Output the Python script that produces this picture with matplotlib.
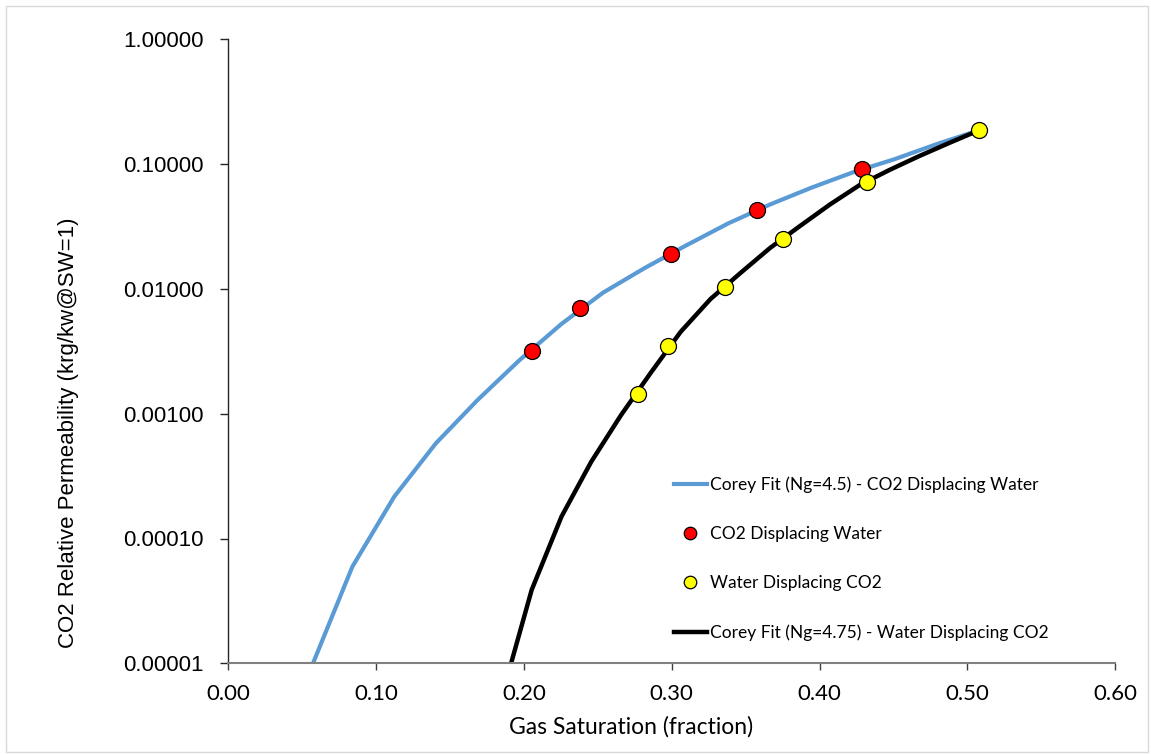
import matplotlib
matplotlib.use("Agg")
import matplotlib.pyplot as plt
from matplotlib.lines import Line2D
from matplotlib.patches import Rectangle
from matplotlib.ticker import FixedLocator, FuncFormatter, NullLocator

# ---- data ----
blue_sg = [0.0573, 0.0839, 0.1122, 0.1404, 0.1687, 0.1969, 0.2252, 0.2535,
           0.2817, 0.3100, 0.3382, 0.3665, 0.3947, 0.4230, 0.4512, 0.4795, 0.5078]
blue_kr = [1.0e-5, 5.94e-5, 2.16e-4, 5.79e-4, 1.29e-3, 2.68e-3, 5.22e-3, 9.33e-3,
           0.0147, 0.0224, 0.0335, 0.0475, 0.0649, 0.0863, 0.110, 0.145, 0.1866]

black_sg = [0.1913, 0.2052, 0.2254, 0.2455, 0.2657, 0.2858, 0.3060, 0.3262,
            0.3464, 0.3665, 0.3867, 0.4069, 0.4271, 0.4472, 0.4674, 0.4876, 0.5078]
black_kr = [1.0e-5, 3.87e-5, 1.50e-4, 4.12e-4, 9.76e-4, 2.13e-3, 4.53e-3, 8.3e-3,
            0.0134, 0.0213, 0.0319, 0.0474, 0.068, 0.0897, 0.116, 0.1476, 0.1866]

red_sg = [0.2052, 0.2381, 0.2995, 0.3574, 0.4285]
red_kr = [0.00320, 0.00700, 0.0191, 0.0426, 0.0908]

yellow_sg = [0.2769, 0.2972, 0.3358, 0.3750, 0.4318, 0.5078]
yellow_kr = [0.00145, 0.00351, 0.0104, 0.0251, 0.0723, 0.1866]

x_ticks = [0.0, 0.1, 0.2, 0.3, 0.4, 0.5, 0.6]
y_ticks = [1e-5, 1e-4, 1e-3, 1e-2, 1e-1, 1.0]

labels = ["Corey Fit (Ng=4.5) - CO2 Displacing Water",
          "CO2 Displacing Water",
          "Water Displacing CO2",
          "Corey Fit (Ng=4.75) - Water Displacing CO2"]

W, H = 1151, 754
fig = plt.figure(figsize=(W / 100, H / 100), dpi=100)
fig.patch.set_facecolor("white")

L, R, T, B = 228.3, 1115.3, 39.3, 663.3
ax = fig.add_axes([L / W, 1 - B / H, (R - L) / W, (B - T) / H])

ax.set_yscale("log")
ax.set_xlim(0, 0.6)
ax.set_ylim(1e-5, 1.0)

blue_c = "#5B9BD5"
ax.plot(blue_sg, blue_kr, color=blue_c, lw=3.0, solid_capstyle="butt", zorder=2)
ax.plot(black_sg, black_kr, color="black", lw=3.2, solid_capstyle="butt", zorder=2)
ax.plot(red_sg, red_kr, ls="none", marker="o", ms=11.5, mfc="#FF0000",
        mec="black", mew=0.9, zorder=3)
ax.plot(yellow_sg, yellow_kr, ls="none", marker="o", ms=11.5, mfc="#FFFF00",
        mec="black", mew=0.9, zorder=4)

# axes styling
for s in ("top", "right"):
    ax.spines[s].set_visible(False)
ax.spines["left"].set_color("#262626")
ax.spines["left"].set_linewidth(1.0)
ax.spines["bottom"].set_color("#808080")
ax.spines["bottom"].set_linewidth(1.5)

ax.xaxis.set_major_locator(FixedLocator(x_ticks))
ax.xaxis.set_major_formatter(FuncFormatter(lambda v, p: f"{v:.2f}"))
ax.yaxis.set_major_locator(FixedLocator(y_ticks))
ax.yaxis.set_minor_locator(NullLocator())
ax.yaxis.set_major_formatter(FuncFormatter(lambda v, p: f"{v:.5f}"))

ax.tick_params(axis="x", direction="out", length=5, width=1.0, color="#404040",
               pad=10, labelsize=16, labelcolor="black")
ax.tick_params(axis="y", direction="out", length=5.5, width=1.0, color="#262626",
               pad=12.5, labelsize=16, labelcolor="black")
for t in ax.get_xticklabels():
    t.set_fontfamily("Lato")
for t in ax.get_yticklabels():
    t.set_fontfamily("Liberation Sans")

# axis titles (placed as in the reference)
fig.text(631 / W, 1 - 727 / H, "Gas Saturation (fraction)", ha="center",
         va="center", fontsize=16.5, family="Lato")
fig.text(69 / W, 1 - 432.5 / H, "CO2 Relative Permeability (krg/kw@SW=1)",
         ha="center", va="center", rotation=90, fontsize=16,
         family="Liberation Sans")

# legend
handles = [
    Line2D([], [], color=blue_c, lw=3.0),
    Line2D([], [], ls="none", marker="o", ms=9, mfc="#FF0000", mec="black", mew=0.9),
    Line2D([], [], ls="none", marker="o", ms=9, mfc="#FFFF00", mec="black", mew=0.9),
    Line2D([], [], color="black", lw=3.2),
]
leg = fig.legend(handles, labels, loc="upper left",
                 bbox_to_anchor=(674 / W, 1 - 476.5 / H),
                 frameon=False, prop={"family": "Lato", "size": 12.5},
                 handlelength=1.9, handletextpad=0.15, labelspacing=1.9,
                 borderpad=0, borderaxespad=0)

# light chart-area border
fig.patches.append(Rectangle((6 / W, 2 / H), (W - 9) / W, (H - 8) / H,
                             transform=fig.transFigure, fill=False,
                             edgecolor="#D9D9D9", lw=1.0))

fig.savefig("out.png", dpi=100)
